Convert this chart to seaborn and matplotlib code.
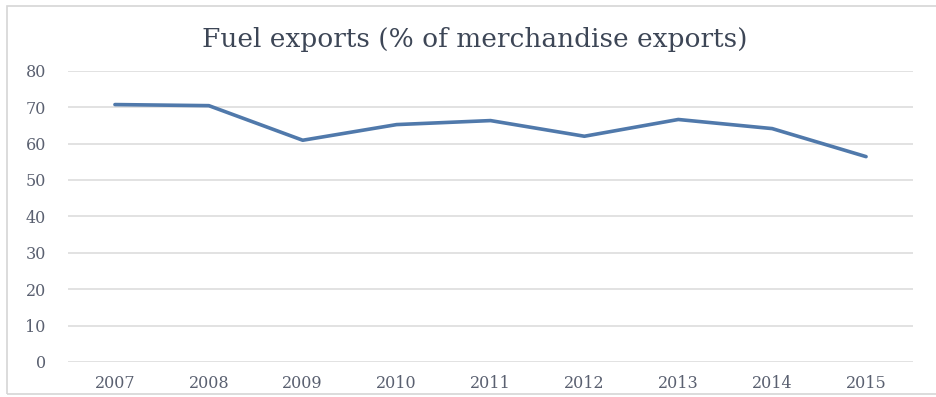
import matplotlib
matplotlib.use("Agg")
import matplotlib.pyplot as plt
from matplotlib.patches import Rectangle
import seaborn as sns
import pandas as pd

# Fuel exports as a share of merchandise exports, by year
years = ["2007", "2008", "2009", "2010", "2011", "2012", "2013", "2014", "2015"]
fuel_share = [70.7, 70.4, 60.9, 65.2, 66.3, 62.0, 66.6, 64.1, 56.4]
y_ticks = [0, 10, 20, 30, 40, 50, 60, 70, 80]
title = "Fuel exports (% of merchandise exports)"

df = pd.DataFrame({"year": years, "share": fuel_share})

sns.set_theme(style="white")
plt.rcParams["font.family"] = ["DejaVu Serif"]

W, H = 936, 397
fig = plt.figure(figsize=(W / 100, H / 100), dpi=100)
fig.patch.set_facecolor("white")

# light frame around the chart area
fig.add_artist(Rectangle((7 / W, 3 / H), (W + 10) / W, (H - 9) / H,
                         transform=fig.transFigure, fill=False,
                         edgecolor="#d6d6d6", linewidth=1.2))

ax = fig.add_axes([68 / W, 1 - 362 / H, (913 - 68) / W, (362 - 70.7) / H])
sns.lineplot(data=df, x="year", y="share", ax=ax, color="#5079ab",
             linewidth=2.6, sort=False)

ax.set_xlim(-0.5, len(years) - 0.5)
ax.set_ylim(0, 80)
ax.set_yticks(y_ticks)
ax.set_yticklabels([str(v) for v in y_ticks])
ax.set_xlabel("")
ax.set_ylabel("")

for v in y_ticks:
    ax.axhline(v, color="#dadada", linewidth=1.1, zorder=0)

for s in ax.spines.values():
    s.set_visible(False)

ax.tick_params(axis="both", length=0, labelsize=11.5, labelcolor="#5a6070")
ax.tick_params(axis="y", pad=16)
ax.tick_params(axis="x", pad=9)

fig.text(475 / W, 1 - 39 / H, title, ha="center", va="center",
         fontsize=19, color="#3d4656")

fig.savefig("out.png", dpi=100)
